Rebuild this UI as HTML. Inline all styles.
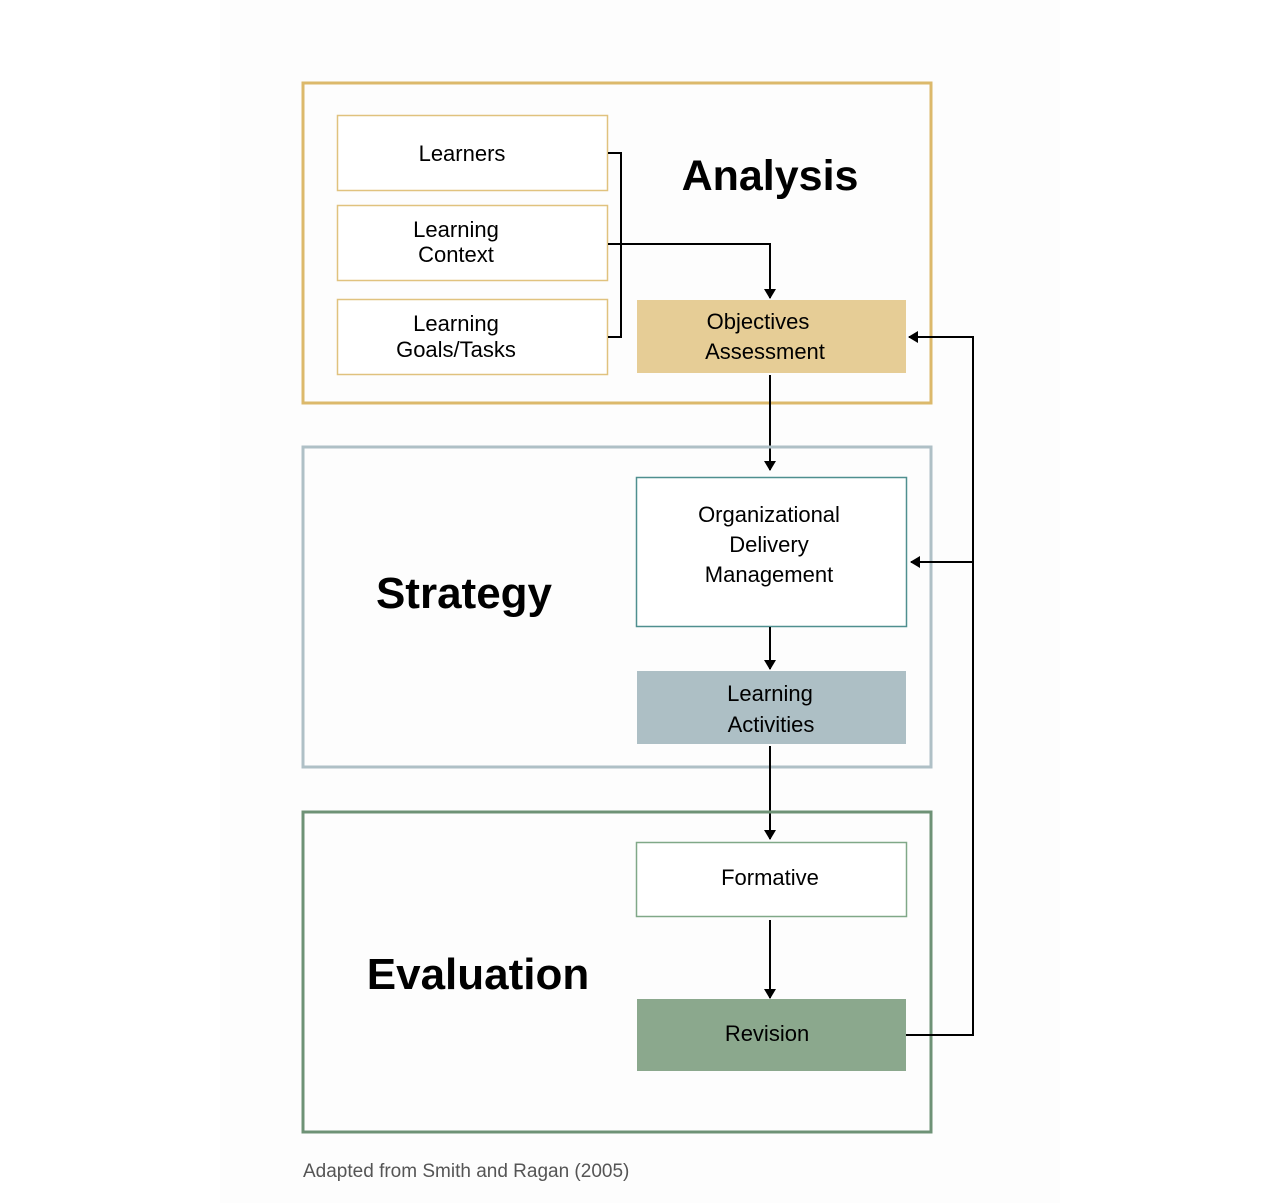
<!DOCTYPE html>
<html><head><meta charset="utf-8"><style>
html,body{margin:0;padding:0;background:#fff;}
svg{display:block;font-family:"Liberation Sans",sans-serif;}
</style></head><body>
<svg width="1280" height="1203" viewBox="0 0 1280 1203" xmlns="http://www.w3.org/2000/svg">
<defs><marker id="a" markerWidth="10" markerHeight="12" refX="9" refY="6" orient="auto" markerUnits="userSpaceOnUse"><path d="M0,0 L10,6 L0,12 z" fill="#000"/></marker></defs>
<rect x="0" y="0" width="1280" height="1203" fill="#fff"/>
<rect x="220" y="0" width="840" height="1203" fill="#fdfdfd"/>
<!-- Analysis -->
<rect x="303" y="83" width="628" height="320" fill="none" stroke="#dcb96b" stroke-width="3"/>
<rect x="337.5" y="115.5" width="270" height="75" fill="#fff" stroke="#e0c27e" stroke-width="1.5"/>
<rect x="337.5" y="205.5" width="270" height="75" fill="#fff" stroke="#e0c27e" stroke-width="1.5"/>
<rect x="337.5" y="299.5" width="270" height="75" fill="#fff" stroke="#e0c27e" stroke-width="1.5"/>
<rect x="637" y="300" width="269" height="73" fill="#e6cd96"/>
<text x="770" y="190" font-size="43" font-weight="bold" text-anchor="middle">Analysis</text>
<g font-size="22" text-anchor="middle">
<text x="462" y="161">Learners</text>
<text x="456" y="237">Learning</text><text x="456" y="262">Context</text>
<text x="456" y="331">Learning</text><text x="456" y="357">Goals/Tasks</text>
<text x="758" y="329">Objectives</text><text x="765" y="359">Assessment</text>
</g>
<g fill="none" stroke="#000" stroke-width="2">
<path d="M608,153 H621 V337 H608"/>
<path d="M608,244 H770 V298" marker-end="url(#a)"/>
<path d="M770,375 V470" marker-end="url(#a)"/>
</g>
<!-- Strategy -->
<rect x="303" y="447" width="628" height="320" fill="none" stroke="#afc0c6" stroke-width="3"/>
<rect x="636.5" y="477.5" width="270" height="149" fill="#fff" stroke="#4f8f8f" stroke-width="1.5"/>
<rect x="637" y="671" width="269" height="73" fill="#adbfc5"/>
<text x="464" y="608" font-size="44" font-weight="bold" text-anchor="middle">Strategy</text>
<g font-size="22" text-anchor="middle">
<text x="769" y="522">Organizational</text><text x="769" y="552">Delivery</text><text x="769" y="582">Management</text>
<text x="770" y="701">Learning</text><text x="771" y="732">Activities</text>
</g>
<g fill="none" stroke="#000" stroke-width="2">
<path d="M770,627 V669" marker-end="url(#a)"/>
<path d="M770,746 V839" marker-end="url(#a)"/>
</g>
<!-- Evaluation -->
<rect x="303" y="812" width="628" height="320" fill="none" stroke="#6e9276" stroke-width="3"/>
<rect x="636.5" y="842.5" width="270" height="74" fill="#fff" stroke="#80a888" stroke-width="1.5"/>
<rect x="637" y="999" width="269" height="72" fill="#8ba88d"/>
<text x="478" y="989" font-size="44" font-weight="bold" text-anchor="middle">Evaluation</text>
<g font-size="22" text-anchor="middle">
<text x="770" y="885">Formative</text>
<text x="767" y="1041">Revision</text>
</g>
<g fill="none" stroke="#000" stroke-width="2">
<path d="M770,920 V998" marker-end="url(#a)"/>
<path d="M906,1035 H973 V337 H909" marker-end="url(#a)"/>
<path d="M973,562 H911" marker-end="url(#a)"/>
</g>
<text x="303" y="1177" font-size="19" fill="#555">Adapted from Smith and Ragan (2005)</text>
</svg>
</body></html>
